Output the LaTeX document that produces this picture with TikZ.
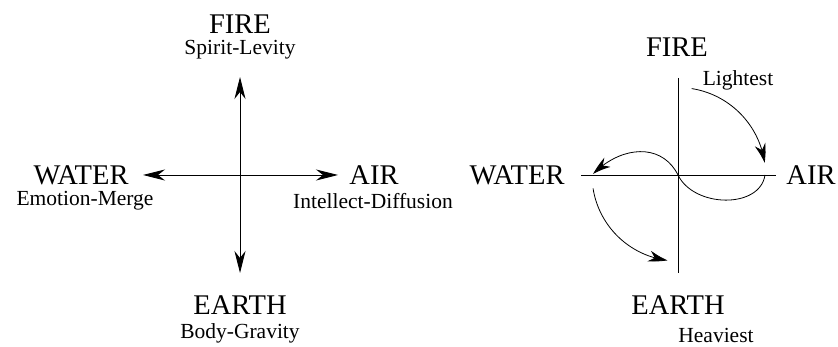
\documentclass[tikz,border=0pt]{standalone}
\usepackage{fontspec}
\setmainfont{Liberation Serif}
\usetikzlibrary{arrows.meta,bending}
\begin{document}
\begin{tikzpicture}[x=1pt,y=-1pt,
  big/.style={inner sep=0pt,font=\fontsize{28.5}{32}\selectfont},
  small/.style={inner sep=0pt,font=\fontsize{21.5}{24}\selectfont},
  axis/.style={line width=0.9pt},
  dbl/.style={line width=0.9pt,{Stealth[length=22pt,width=11pt,inset=7pt]}-{Stealth[length=22pt,width=11pt,inset=7pt]}},
  flow/.style={line width=0.8pt,-{Stealth[length=19pt,width=11pt,inset=6pt,bend]}},
  thin/.style={line width=0.8pt}]
\path[use as bounding box] (0,0) rectangle (838,347);
% ---------- left diagram ----------
\node[big] (fireL) at (240,24.5) {FIRE};
\node[small] (spirit) at (240,50) {Spirit-Levity};
\node[big] (waterL) at (81,175.5) {WATER};
\node[small] (emotion) at (85,201) {Emotion-Merge};
\node[big] (airL) at (374,175.5) {AIR};
\node[small] (intellect) at (373,201) {Intellect-Diffusion};
\node[big] (earthL) at (240,305.5) {EARTH};
\node[small] (body) at (240,333.5) {Body-Gravity};
\coordinate (tL) at (240,77);
\coordinate (bL) at (240,273);
\coordinate (lL) at (143,175);
\coordinate (rL) at (338,175);
\draw[dbl] (tL) -- (bL);
\draw[dbl] (lL) -- (rL);
% ---------- right diagram ----------
\node[big] (fireR) at (677,47) {FIRE};
\node[small] (light) at (738,80) {Lightest};
\node[big] (waterR) at (517,175.5) {WATER};
\node[big] (airR) at (811,175.5) {AIR};
\node[big] (earthR) at (678,305.5) {EARTH};
\node[small] (heavy) at (716,335.5) {Heaviest};
\coordinate (c) at (678,175);
\coordinate (tR) at (678,78);
\coordinate (bR) at (678,273);
\coordinate (lR) at (581,175);
\coordinate (rR) at (776,175);
\draw[axis] (tR) -- (bR);
\draw[axis] (lR) -- (rR);
% Fire -> Air
\draw[flow] (c) ++(-81:87.5) arc[start angle=-81, end angle=-8, radius=87.5];
% S curve through centre
\coordinate (sR) at (765,175);
\coordinate (sL) at (593,174);
\draw[thin] (sR) .. controls (760,209) and (694,208) .. (c);
\draw[flow] (c) .. controls (662,143) and (622,145) .. (sL);
% Water -> Earth
\draw[flow] (c) ++(171:86) arc[start angle=171, end angle=97, radius=86];
\end{tikzpicture}
\end{document}
